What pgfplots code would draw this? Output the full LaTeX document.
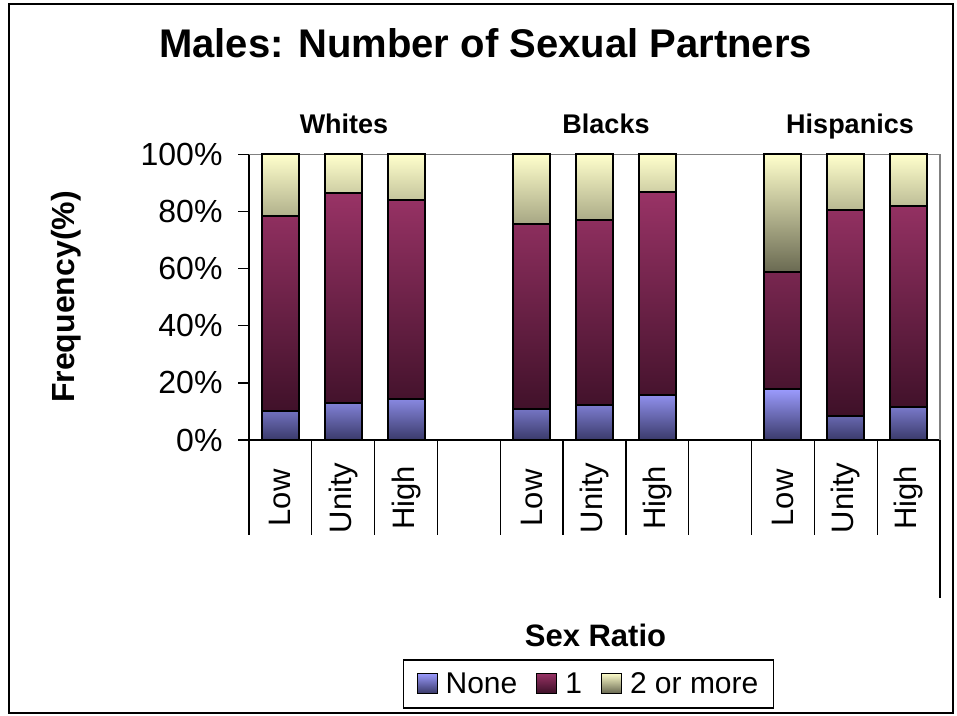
\documentclass[border=0pt]{standalone}
\usepackage{pgfplots}
\usepackage{pgfplotstable}
\pgfplotsset{compat=1.18}
\usepackage{fontspec}
\setmainfont{Liberation Sans}
\definecolor{noneTop}{HTML}{9C9CFF}
\definecolor{noneBot}{HTML}{3A3A6A}
\definecolor{oneTop}{HTML}{993366}
\definecolor{oneBot}{HTML}{3E1028}
\definecolor{twoTop}{HTML}{FFFFCC}
\definecolor{twoBot}{HTML}{6A6A52}
\pgfplotstableread{
x none one two
0 10.0 68.4 21.6
1 12.8 73.5 13.7
2 14.5 69.5 16.0
4 10.7 64.8 24.5
5 12.3 64.6 23.1
6 15.8 71.1 13.1
8 18.0 40.9 41.1
9 8.5 72.0 19.5
10 11.4 70.5 18.1
}\datatable
\begin{document}
\begin{tikzpicture}
\useasboundingbox (0,0) rectangle (957pt,-715pt);
\draw[line width=2pt] (8.5pt,-3.5pt) rectangle (953pt,-713pt);
\node[font=\fontsize{40}{48}\selectfont\bfseries, anchor=base, inner sep=0pt] at (485.5pt,-57pt) {Males: Number of Sexual Partners};
\node[font=\fontsize{27}{32}\selectfont\bfseries, anchor=base, inner sep=0pt] at (344pt,-133pt) {Whites};
\node[font=\fontsize{27}{32}\selectfont\bfseries, anchor=base, inner sep=0pt] at (606pt,-133pt) {Blacks};
\node[font=\fontsize{27}{32}\selectfont\bfseries, anchor=base, inner sep=0pt] at (850pt,-133pt) {Hispanics};
\node[font=\fontsize{32}{38}\selectfont\bfseries, rotate=90, inner sep=0pt] at (66pt,-297pt) {Frequency(\%)};
\node[font=\fontsize{31}{36}\selectfont\bfseries, inner sep=0pt] at (595.5pt,-635pt) {Sex Ratio};
\foreach \k in {0,...,11} {
  \draw[line width=1.3pt] ({249pt+\k*62.818pt},-440pt) -- ++(0,-95pt);
}
\draw[line width=1.3pt] (940pt,-440pt) -- (940pt,-598pt);
\begin{axis}[
  at={(249pt,-440pt)}, anchor=south west,
  scale only axis, width=691pt, height=285.7pt,
  ybar stacked, bar width=37pt,
  xmin=-0.5, xmax=10.5, ymin=0, ymax=100,
  clip=false,
  axis x line*=bottom, axis y line*=left,
  axis line style={line width=1.6pt, black, -},
  xtick={0,1,2,4,5,6,8,9,10},
  xticklabels={Low,Unity,High,Low,Unity,High,Low,Unity,High},
  xticklabel style={yshift=-47pt, rotate=90, anchor=center, inner sep=0pt, font=\fontsize{31}{36}\selectfont},
  xtick style={draw=none},
  ytick={0,20,40,60,80,100},
  yticklabel={\pgfmathprintnumber{\tick}\%},
  yticklabel style={xshift=-12pt, font=\fontsize{32}{38}\selectfont, /pgf/number format/assume math mode=true},
  ytick style={line width=1.3pt, black},
  tick align=outside, major tick length=11pt,
  legend style={at={(0.4913,-0.854)}, anchor=center, legend columns=3, draw=black, line width=1.5pt,
    font=\fontsize{30}{36}\selectfont, inner xsep=13pt, inner ysep=11pt,
    /tikz/every odd column/.append style={column sep=6pt},
    /tikz/every even column/.append style={column sep=17pt}},
  legend image code/.code={\draw[#1, line width=1pt] (0pt,-9pt) rectangle (20pt,11pt);},
]
\addplot[draw=black, line width=2pt, top color=noneTop, bottom color=noneBot] table[x=x, y=none] {\datatable};
\addlegendentry{None}
\addplot[draw=black, line width=2pt, top color=oneTop, bottom color=oneBot] table[x=x, y=one] {\datatable};
\addlegendentry{1}
\addplot[draw=black, line width=2pt, top color=twoTop, bottom color=twoBot] table[x=x, y=two] {\datatable};
\addlegendentry{2 or more}
\draw[gray, line width=1.2pt] (rel axis cs:0,1) -- (rel axis cs:1,1) -- (rel axis cs:1,0);
\end{axis}
\end{tikzpicture}
\end{document}
